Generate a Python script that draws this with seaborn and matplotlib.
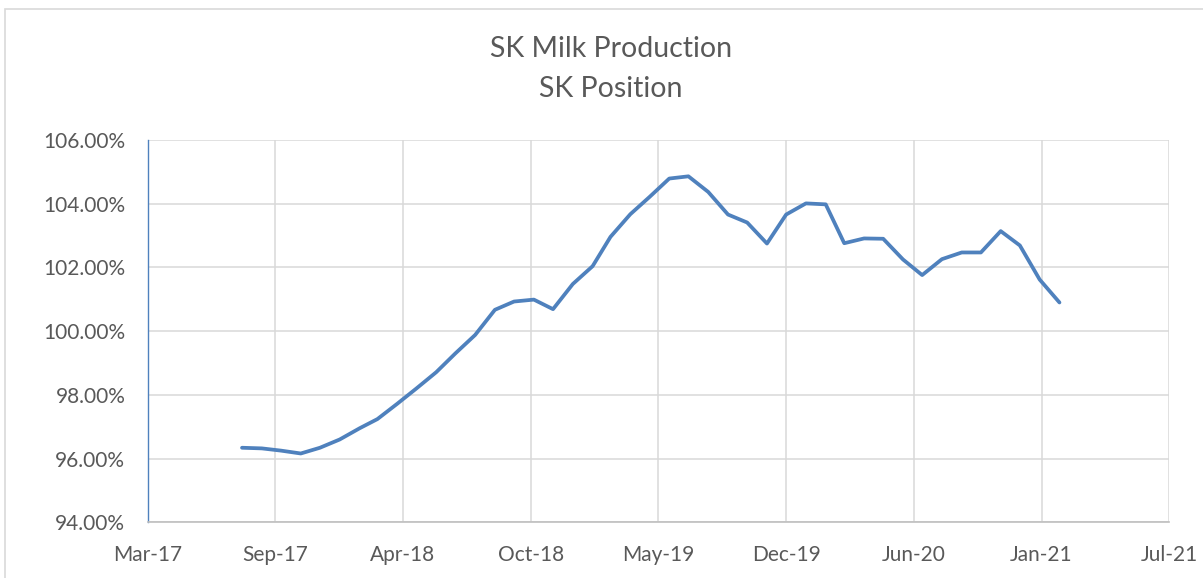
import matplotlib
matplotlib.use("Agg")
import matplotlib.pyplot as plt
import matplotlib.dates as mdates
from matplotlib.ticker import FuncFormatter, MultipleLocator
from matplotlib.patches import Rectangle
import seaborn as sns
import pandas as pd
import numpy as np

# ---- data ----
months = pd.date_range("2017-08-01", "2021-02-01", freq="MS")
sk_position = [
    96.34, 96.32, 96.25, 96.16, 96.34, 96.60, 96.95, 97.24, 97.72, 98.20,
    98.71, 99.30, 99.88, 100.67, 100.93, 100.99, 100.69, 101.48, 102.04, 102.96,
    103.67, 104.21, 104.79, 104.86, 104.37, 103.66, 103.41, 102.75, 103.66, 104.01,
    103.98, 102.76, 102.91, 102.90, 102.25, 101.76, 102.26, 102.47, 102.47, 103.14,
    102.69, 101.62, 100.90,
]
title_lines = ["SK Milk Production", "SK Position"]
x_start = pd.Timestamp("2017-03-06")
x_step_days = 200
n_xticks = 9

df = pd.DataFrame({"month": months, "value": np.array(sk_position) / 100.0})

sns.set_theme(style="white")
plt.rcParams["font.family"] = ["Lato", "DejaVu Sans"]

fig = plt.figure(figsize=(12.03, 5.78), dpi=100)
ax = fig.add_axes([147.5 / 1203, 1 - 522.3 / 578, (1169.3 - 147.5) / 1203, (522.3 - 140) / 578])

sns.lineplot(data=df, x="month", y="value", ax=ax, color="#4F81BD", linewidth=2.7)

xticks = [x_start + pd.Timedelta(days=x_step_days * i) for i in range(n_xticks)]
ax.set_xlim(xticks[0], xticks[-1])
ax.set_xticks(xticks)
ax.xaxis.set_major_formatter(mdates.DateFormatter("%b-%y"))

ax.set_ylim(0.94, 1.06)
ax.yaxis.set_major_locator(MultipleLocator(0.02))
ax.yaxis.set_major_formatter(FuncFormatter(lambda v, p: f"{v*100:.2f}%"))

ax.grid(True, color="#d9d9d9", linewidth=1.1)
ax.set_axisbelow(True)
for s in ["top", "right"]:
    ax.spines[s].set_visible(False)
ax.spines["left"].set_color("#4F81BD")
ax.spines["left"].set_linewidth(1.0)
ax.spines["bottom"].set_color("#bfbfbf")
ax.spines["bottom"].set_linewidth(1.2)

ax.tick_params(axis="both", length=0, labelsize=15, labelcolor="#595959")
ax.tick_params(axis="y", pad=16)
ax.tick_params(axis="x", pad=16)
ax.set_xlabel("")
ax.set_ylabel("")

fig.text(0.508, 1 - 49 / 578, title_lines[0], ha="center", va="center", fontsize=20.5, color="#595959")
fig.text(0.508, 1 - 89 / 578, title_lines[1], ha="center", va="center", fontsize=20.5, color="#595959")

fig.patches.append(Rectangle((5 / 1203, -0.05), 1.1, 1 - 9 / 578 + 0.05, transform=fig.transFigure,
                             fill=False, edgecolor="#d9d9d9", linewidth=1.2, figure=fig))

fig.savefig("out.png", dpi=100)
